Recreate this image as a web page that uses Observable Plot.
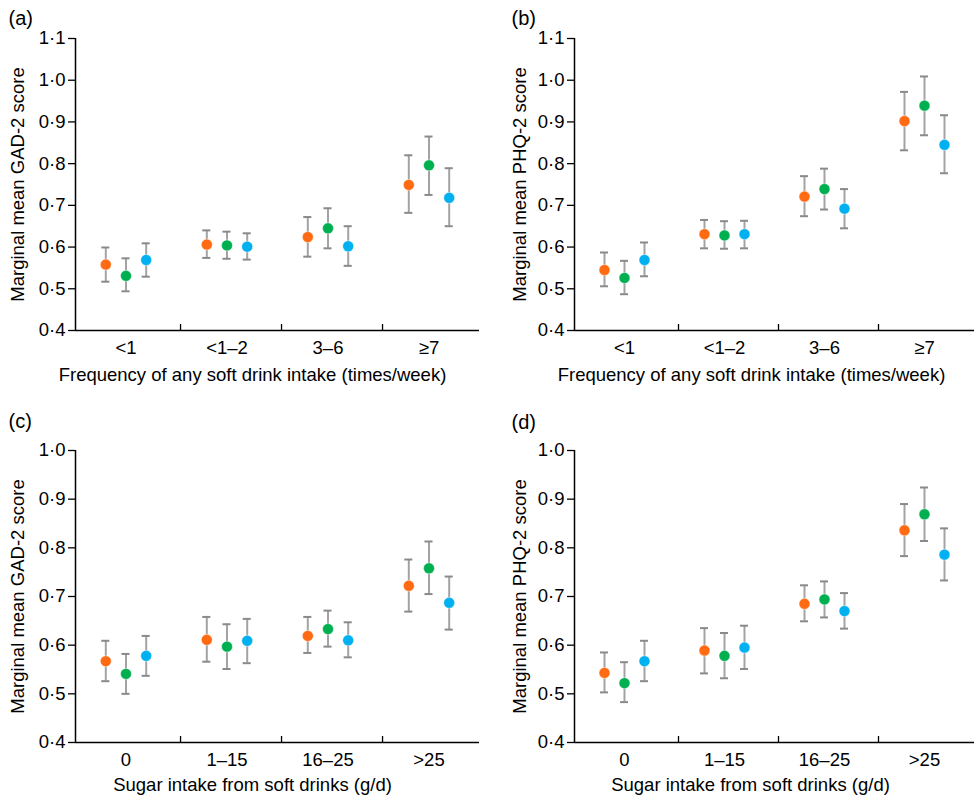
<!DOCTYPE html>
<html>
<head>
<meta charset="utf-8">
<script src="https://cdn.jsdelivr.net/npm/d3@7"></script>
<script src="https://cdn.jsdelivr.net/npm/@observablehq/plot@0.6"></script>
<style>
  html, body { margin: 0; padding: 0; background: #fff; }
  #chart { position: relative; width: 974px; height: 799px; overflow: hidden; }
  #chart svg { position: absolute; }
</style>
</head>
<body>
<div id="chart"></div>
<script>
// ---- categories and tick labels ----
const freqCats = ["<1", "<1–2", "3–6", "≥7"];
const sugarCats = ["0", "1–15", "16–25", ">25"];
const seriesKeys = ["Series 1", "Series 2", "Series 3"];
const seriesColors = ["#ff6a13", "#00b050", "#00b0f0"];
const yTicksTop = [0.4, 0.5, 0.6, 0.7, 0.8, 0.9, 1.0, 1.1];
const yTicksBottom = [0.4, 0.5, 0.6, 0.7, 0.8, 0.9, 1.0];

// ---- (a) GAD-2 by frequency: [category][series] ----
const gadFreqMean = [[0.558, 0.531, 0.569], [0.606, 0.604, 0.601], [0.624, 0.645, 0.602], [0.749, 0.796, 0.718]];
const gadFreqLo   = [[0.517, 0.494, 0.529], [0.574, 0.572, 0.570], [0.577, 0.597, 0.555], [0.682, 0.725, 0.650]];
const gadFreqHi   = [[0.599, 0.573, 0.609], [0.640, 0.637, 0.633], [0.672, 0.693, 0.650], [0.820, 0.865, 0.789]];

// ---- (b) PHQ-2 by frequency ----
const phqFreqMean = [[0.545, 0.526, 0.569], [0.631, 0.628, 0.631], [0.721, 0.739, 0.692], [0.902, 0.939, 0.845]];
const phqFreqLo   = [[0.506, 0.487, 0.530], [0.597, 0.596, 0.597], [0.674, 0.690, 0.645], [0.832, 0.868, 0.777]];
const phqFreqHi   = [[0.587, 0.567, 0.611], [0.665, 0.662, 0.663], [0.770, 0.788, 0.739], [0.972, 1.009, 0.916]];

// ---- (c) GAD-2 by sugar ----
const gadSugarMean = [[0.567, 0.541, 0.578], [0.611, 0.597, 0.609], [0.619, 0.633, 0.610], [0.722, 0.758, 0.687]];
const gadSugarLo   = [[0.526, 0.500, 0.537], [0.566, 0.551, 0.563], [0.584, 0.597, 0.575], [0.669, 0.705, 0.632]];
const gadSugarHi   = [[0.609, 0.582, 0.619], [0.658, 0.643, 0.654], [0.658, 0.671, 0.647], [0.776, 0.813, 0.741]];

// ---- (d) PHQ-2 by sugar ----
const phqSugarMean = [[0.543, 0.522, 0.567], [0.589, 0.578, 0.595], [0.685, 0.694, 0.670], [0.836, 0.869, 0.786]];
const phqSugarLo   = [[0.503, 0.483, 0.526], [0.542, 0.532, 0.551], [0.649, 0.657, 0.634], [0.783, 0.814, 0.733]];
const phqSugarHi   = [[0.585, 0.565, 0.609], [0.635, 0.625, 0.640], [0.723, 0.731, 0.707], [0.890, 0.924, 0.840]];

const fmt = d => d.toFixed(1).replace(".", "·");
const dodge = [-0.2, 0, 0.2];
const capHalf = 0.04;
const sepOffset = 0.54;
const fontSize = 18.5;

function panel(cfg) {
  const rows = [];
  cfg.cats.forEach((c, i) => {
    seriesKeys.forEach((s, j) => {
      rows.push({x: i + dodge[j], series: s, mean: cfg.mean[i][j], lo: cfg.lo[i][j], hi: cfg.hi[i][j]});
    });
  });
  const idx = cfg.cats.map((c, i) => i);
  const seps = idx.slice(0, -1).map(i => i + sepOffset);
  const innerH = cfg.height - cfg.marginTop - cfg.marginBottom;
  const yMin = cfg.yTicks[0], yMax = cfg.yTicks[cfg.yTicks.length - 1];
  const svg = Plot.plot({
    width: cfg.width, height: cfg.height,
    marginLeft: cfg.marginLeft, marginRight: cfg.marginRight,
    marginTop: cfg.marginTop, marginBottom: cfg.marginBottom,
    style: {fontFamily: "'Liberation Sans', Arial, sans-serif", fontSize: fontSize + "px", color: "#000", background: "transparent", overflow: "visible"},
    x: {domain: [-0.5, cfg.cats.length - 0.5], axis: null},
    y: {domain: [yMin, yMax], axis: null},
    color: {domain: seriesKeys, range: seriesColors},
    marks: [
      Plot.axisY({ticks: cfg.yTicks, tickFormat: fmt, tickSize: 7, tickPadding: 3, label: null, strokeWidth: 1.3, fontSize}),
      Plot.axisX({ticks: idx, tickFormat: i => cfg.cats[i], tickSize: 0, tickPadding: 10, label: null, fontSize}),
      Plot.ruleX(seps, {x: d => d, insetTop: innerH - 6, stroke: "#000", strokeWidth: 1.3}),
      Plot.ruleY([yMin], {stroke: "#000", strokeWidth: 1.5}),
      Plot.ruleX([-0.5], {stroke: "#000", strokeWidth: 1.5}),
      Plot.ruleX(rows, {x: "x", y1: "lo", y2: "hi", stroke: "#a3a3a3", strokeWidth: 2}),
      Plot.ruleY(rows, {y: "lo", x1: d => d.x - capHalf, x2: d => d.x + capHalf, stroke: "#8a8a8a", strokeWidth: 2}),
      Plot.ruleY(rows, {y: "hi", x1: d => d.x - capHalf, x2: d => d.x + capHalf, stroke: "#8a8a8a", strokeWidth: 2}),
      Plot.dot(rows, {x: "x", y: "mean", r: 5.5, fill: "series", stroke: "#fff", strokeOpacity: 0.6, strokeWidth: 0.8}),
      Plot.text([cfg.yLabel], {frameAnchor: "left", rotate: -90, dx: cfg.yLabelDx, lineAnchor: "middle", textAnchor: "middle", fontSize}),
      Plot.text([cfg.xLabel], {frameAnchor: "bottom", dx: cfg.xLabelDx, dy: cfg.xLabelDy, lineAnchor: "middle", textAnchor: "middle", fontSize}),
      Plot.text([cfg.tag], {frameAnchor: "top-left", dx: cfg.tagDx, dy: cfg.tagDy, lineAnchor: "middle", textAnchor: "start", fontSize: 20})
    ]
  });
  svg.style.left = cfg.left + "px";
  svg.style.top = cfg.top + "px";
  document.getElementById("chart").appendChild(svg);
}

const freqTitle = "Frequency of any soft drink intake (times/week)";
const sugarTitle = "Sugar intake from soft drinks (g/d)";

panel({cats: freqCats, mean: gadFreqMean, lo: gadFreqLo, hi: gadFreqHi, yTicks: yTicksTop,
  yLabel: "Marginal mean GAD-2 score", xLabel: freqTitle, tag: "(a)",
  left: 0, top: 0, width: 487, height: 400, marginLeft: 75, marginRight: 8, marginTop: 38, marginBottom: 70,
  yLabelDx: -57, xLabelDx: -25, xLabelDy: 45, tagDx: -67, tagDy: -20});

panel({cats: freqCats, mean: phqFreqMean, lo: phqFreqLo, hi: phqFreqHi, yTicks: yTicksTop,
  yLabel: "Marginal mean PHQ-2 score", xLabel: freqTitle, tag: "(b)",
  left: 487, top: 0, width: 487, height: 400, marginLeft: 87, marginRight: 0, marginTop: 38, marginBottom: 70,
  yLabelDx: -54, xLabelDx: -23, xLabelDy: 45, tagDx: -63, tagDy: -20});

panel({cats: sugarCats, mean: gadSugarMean, lo: gadSugarLo, hi: gadSugarHi, yTicks: yTicksBottom,
  yLabel: "Marginal mean GAD-2 score", xLabel: sugarTitle, tag: "(c)",
  left: 0, top: 400, width: 487, height: 399, marginLeft: 75, marginRight: 8, marginTop: 50, marginBottom: 57,
  yLabelDx: -57, xLabelDx: -25, xLabelDy: 43, tagDx: -67, tagDy: -29});

panel({cats: sugarCats, mean: phqSugarMean, lo: phqSugarLo, hi: phqSugarHi, yTicks: yTicksBottom,
  yLabel: "Marginal mean PHQ-2 score", xLabel: sugarTitle, tag: "(d)",
  left: 487, top: 400, width: 487, height: 399, marginLeft: 87, marginRight: 0, marginTop: 50, marginBottom: 57,
  yLabelDx: -54, xLabelDx: -24, xLabelDy: 43, tagDx: -63, tagDy: -28});
</script>
</body>
</html>
